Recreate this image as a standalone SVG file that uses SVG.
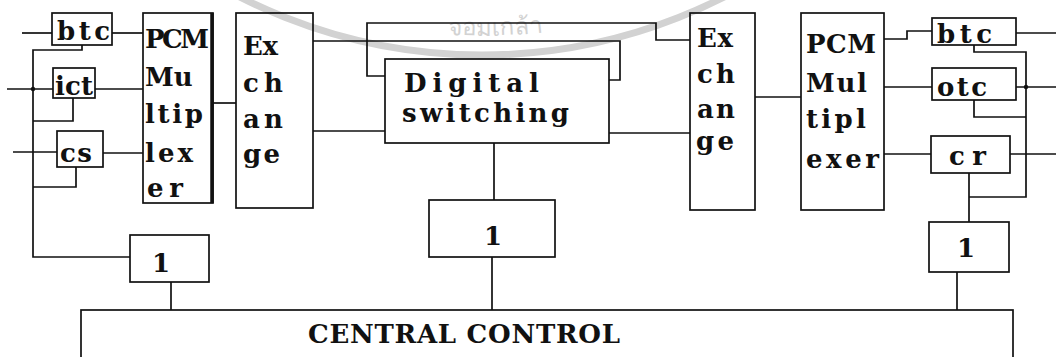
<svg xmlns="http://www.w3.org/2000/svg" width="1056" height="357" viewBox="0 0 1056 357">
<defs>
<style>
.bx{fill:none;stroke:#111;stroke-width:1.7}
.ln{fill:none;stroke:#111;stroke-width:1.7}
.t{font-family:"DejaVu Serif","Liberation Serif",serif;font-weight:bold;font-size:26px;fill:#111}
.wm{fill:none;stroke:#d2d2d2;stroke-width:7}
.wt{font-family:"Noto Sans","DejaVu Sans",sans-serif;font-size:24px;fill:#d2d2d2}
</style>
<path id="wmArc" d="M172,-68 A515,515 0 0,0 792,-68"/>
</defs>
<rect x="0" y="0" width="1056" height="357" fill="#fff"/>
<g id="watermark">
<circle class="wm" cx="482" cy="-479" r="534"/>
<text class="wt"><textPath href="#wmArc" startOffset="52%" text-anchor="middle">จอมเกล้า</textPath></text>
</g>
<g id="connectors">
<path class="ln" d="M22,33 H52"/>
<path class="ln" d="M112,33 H143"/>
<path class="ln" d="M82,45 V50 H33 V257 H130"/>
<path class="ln" d="M7,89 H53"/>
<circle cx="33" cy="89" r="2.2" fill="#111"/>
<path class="ln" d="M95,89 H143"/>
<path class="ln" d="M73,98 V121 H33"/>
<path class="ln" d="M13,152 H57"/>
<path class="ln" d="M103,153 H143"/>
<path class="ln" d="M76,167 V187 H33"/>
<path class="ln" d="M213,103 H236"/>
<path class="ln" d="M171,282 V310"/>
<path class="ln" d="M313,41 H620 V80 H609"/>
<path class="ln" d="M385,76 H367 V23 H656 V40 H690"/>
<path class="ln" d="M313,131 H385"/>
<path class="ln" d="M609,133 H690"/>
<path class="ln" d="M494,143 V200"/>
<path class="ln" d="M492,257 V310"/>
<path class="ln" d="M755,97 H801"/>
<path class="ln" d="M884,39 H907 V31 H932"/>
<path class="ln" d="M1016,33 H1056"/>
<path class="ln" d="M884,87 H932"/>
<path class="ln" d="M1016,87 H1056"/>
<circle cx="1026" cy="87" r="2.2" fill="#111"/>
<path class="ln" d="M884,154 H931"/>
<path class="ln" d="M1010,154 H1056"/>
<path class="ln" d="M974,45 V52 H1026 V197 H969"/>
<path class="ln" d="M974,100 V117 H1026"/>
<path class="ln" d="M969,173 V222"/>
<path class="ln" d="M957,272 V310"/>
</g>
<g id="btc-left"><rect class="bx" x="52" y="13" width="60" height="32"/><text class="t" x="57" y="40" textLength="53">btc</text></g>
<g id="ict"><rect class="bx" x="53" y="68" width="42" height="30"/><text class="t" x="55" y="95" textLength="38">ict</text></g>
<g id="cs"><rect class="bx" x="57" y="131" width="46" height="36"/><text class="t" x="60" y="162" textLength="32">cs</text></g>
<g id="pcm-left"><rect class="bx" x="143" y="13" width="70" height="190"/><path d="M212,13 V203" stroke="#111" stroke-width="3.5"/>
<text class="t" x="145" y="48" textLength="64">PCM</text>
<text class="t" x="145" y="86">Mu</text>
<text class="t" x="145" y="123" textLength="58">ltip</text>
<text class="t" x="145" y="162" textLength="48">lex</text>
<text class="t" x="147" y="197" textLength="36">er</text></g>
<g id="exchange-left"><rect class="bx" x="236" y="13" width="77" height="195"/>
<text class="t" x="243" y="55" textLength="35">Ex</text>
<text class="t" x="243" y="92" textLength="40">ch</text>
<text class="t" x="243" y="128" textLength="40">an</text>
<text class="t" x="243" y="163" textLength="37">ge</text></g>
<g id="digital-switching"><rect class="bx" x="385" y="59" width="224" height="84"/>
<text class="t" x="404" y="92" textLength="135">Digital</text>
<text class="t" x="402" y="122" textLength="167">switching</text></g>
<g id="exchange-right"><rect class="bx" x="690" y="13" width="65" height="197"/>
<text class="t" x="697" y="47" textLength="36">Ex</text>
<text class="t" x="697" y="83" textLength="38">ch</text>
<text class="t" x="697" y="118" textLength="38">an</text>
<text class="t" x="696" y="150" textLength="38">ge</text></g>
<g id="pcm-right"><rect class="bx" x="801" y="13" width="83" height="197"/>
<text class="t" x="806" y="53" textLength="70">PCM</text>
<text class="t" x="806" y="92" textLength="61">Mul</text>
<text class="t" x="806" y="128" textLength="60">tipl</text>
<text class="t" x="806" y="168" textLength="73">exer</text></g>
<g id="btc-right"><rect class="bx" x="932" y="18" width="84" height="27"/><text class="t" x="937" y="43" textLength="55">btc</text></g>
<g id="otc"><rect class="bx" x="932" y="68" width="84" height="32"/><text class="t" x="937" y="96" textLength="50">otc</text></g>
<g id="cr"><rect class="bx" x="931" y="136" width="79" height="37"/><text class="t" x="949" y="165" textLength="37">cr</text></g>
<g id="one-left"><rect class="bx" x="130" y="235" width="79" height="47"/><text class="t" x="152" y="272">1</text></g>
<g id="one-middle"><rect class="bx" x="429" y="200" width="126" height="57"/><text class="t" x="484" y="245">1</text></g>
<g id="one-right"><rect class="bx" x="929" y="222" width="80" height="50"/><text class="t" x="957" y="257">1</text></g>
<g id="central-control"><rect class="bx" x="81" y="310" width="932" height="52"/>
<text class="t" x="308" y="343" font-size="28" textLength="312">CENTRAL CONTROL</text></g>
</svg>
